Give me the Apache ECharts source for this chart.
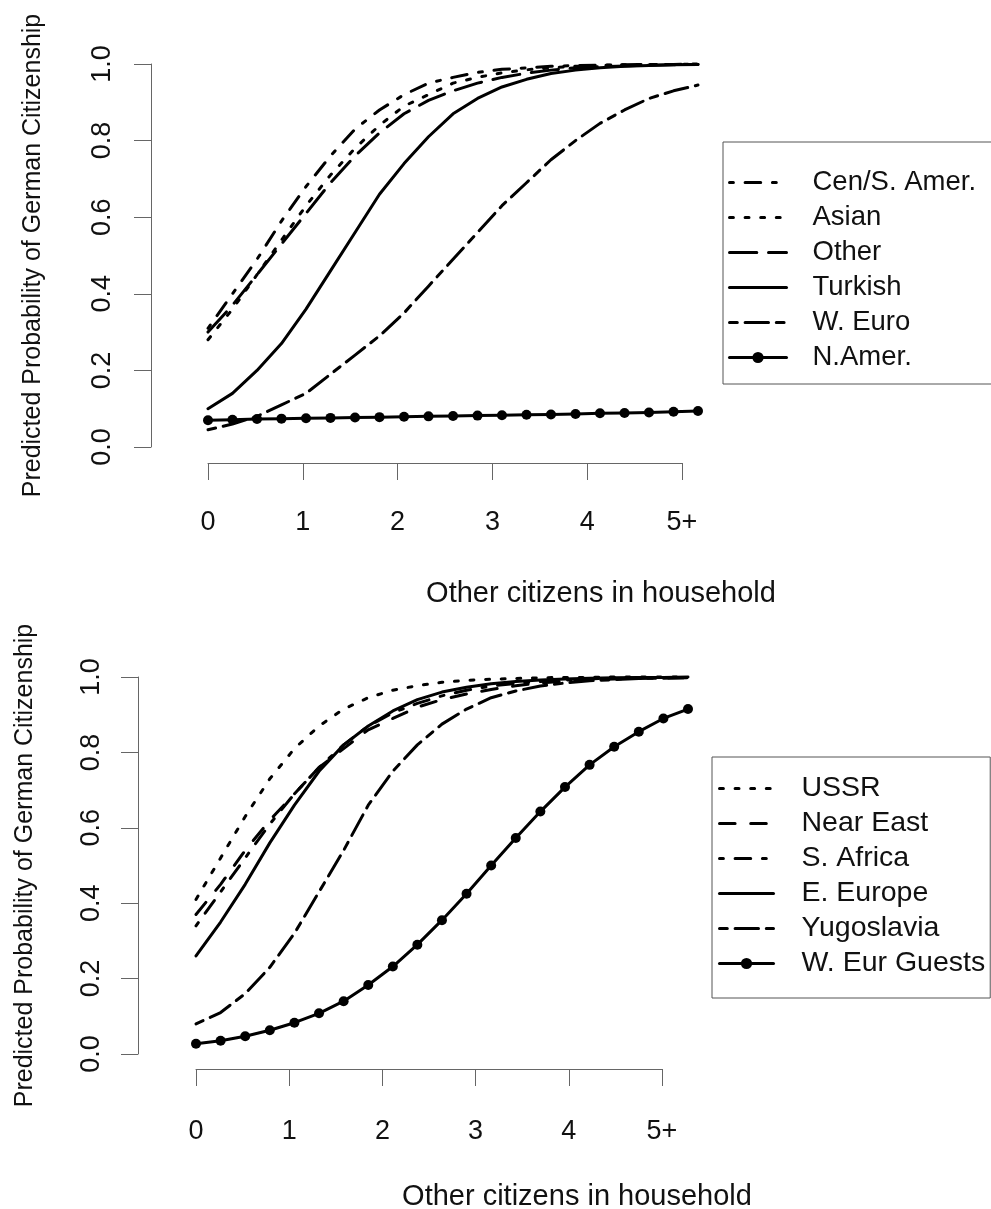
<!DOCTYPE html>
<html><head><meta charset="utf-8">
<script src="https://cdn.jsdelivr.net/npm/echarts@6/dist/echarts.min.js"></script>
<style>html,body{margin:0;padding:0;background:#fff}#c{width:991px;height:1209px}</style>
</head><body><div id="c"></div>
<script>
// ---------- data ----------
const xTickLabels = ['0', '1', '2', '3', '4', '5+'];
const yTickLabels = ['0.0', '0.2', '0.4', '0.6', '0.8', '1.0'];
const xTitle = 'Other citizens in household';
const yTitle = 'Predicted Probability of German Citizenship';

// x positions of the 21 plotted points (in axis units)
const xTop = [0, 0.258, 0.517, 0.775, 1.034, 1.292, 1.551, 1.809, 2.068, 2.326, 2.585,
  2.843, 3.101, 3.360, 3.618, 3.877, 4.135, 4.394, 4.652, 4.911, 5.169];
const xBottom = [0, 0.264, 0.528, 0.792, 1.056, 1.320, 1.584, 1.848, 2.112, 2.375, 2.639,
  2.903, 3.167, 3.431, 3.695, 3.959, 4.223, 4.487, 4.751, 5.015, 5.279];

// top panel
const topNames = ['Cen/S. Amer.', 'Asian', 'Other', 'Turkish', 'W. Euro', 'N.Amer.'];
const cenSAmer = [0.31, 0.40, 0.49, 0.59, 0.68, 0.76, 0.83, 0.88, 0.92, 0.95, 0.965,
  0.978, 0.986, 0.990, 0.994, 0.996, 0.997, 0.998, 0.999, 0.999, 1.0];
const asian = [0.28, 0.36, 0.45, 0.54, 0.63, 0.71, 0.78, 0.84, 0.89, 0.92, 0.95,
  0.965, 0.977, 0.985, 0.990, 0.994, 0.996, 0.998, 0.999, 0.999, 1.0];
const other = [0.30, 0.37, 0.45, 0.53, 0.61, 0.69, 0.76, 0.82, 0.87, 0.905, 0.93,
  0.95, 0.965, 0.976, 0.984, 0.990, 0.993, 0.995, 0.997, 0.998, 0.999];
const turkish = [0.10, 0.14, 0.20, 0.27, 0.36, 0.46, 0.56, 0.66, 0.74, 0.81, 0.87,
  0.91, 0.94, 0.96, 0.975, 0.984, 0.990, 0.994, 0.996, 0.998, 0.999];
const wEuro = [0.045, 0.06, 0.08, 0.11, 0.14, 0.19, 0.24, 0.29, 0.35, 0.42, 0.49,
  0.56, 0.63, 0.69, 0.75, 0.80, 0.845, 0.88, 0.91, 0.93, 0.945];
const nAmer = [0.070, 0.071, 0.073, 0.074, 0.075, 0.076, 0.077, 0.078, 0.079, 0.080, 0.081,
  0.082, 0.083, 0.084, 0.085, 0.086, 0.088, 0.089, 0.090, 0.092, 0.094];

// bottom panel
const bottomNames = ['USSR', 'Near East', 'S. Africa', 'E. Europe', 'Yugoslavia', 'W. Eur Guests'];
const ussr = [0.41, 0.52, 0.63, 0.73, 0.81, 0.87, 0.915, 0.945, 0.965, 0.977, 0.986,
  0.991, 0.994, 0.996, 0.998, 0.999, 0.999, 1.0, 1.0, 1.0, 1.0];
const nearEast = [0.37, 0.45, 0.54, 0.62, 0.69, 0.76, 0.81, 0.86, 0.89, 0.92, 0.94,
  0.955, 0.967, 0.977, 0.984, 0.989, 0.992, 0.995, 0.996, 0.997, 0.998];
const sAfrica = [0.34, 0.43, 0.52, 0.61, 0.69, 0.76, 0.82, 0.87, 0.905, 0.93, 0.95,
  0.965, 0.976, 0.983, 0.988, 0.992, 0.995, 0.997, 0.998, 0.999, 0.999];
const eEurope = [0.26, 0.35, 0.45, 0.56, 0.66, 0.75, 0.82, 0.87, 0.91, 0.94, 0.96,
  0.973, 0.982, 0.988, 0.992, 0.995, 0.997, 0.998, 0.999, 0.999, 1.0];
const yugoslavia = [0.08, 0.11, 0.16, 0.23, 0.32, 0.43, 0.54, 0.66, 0.75, 0.82, 0.875,
  0.915, 0.945, 0.963, 0.976, 0.984, 0.990, 0.993, 0.996, 0.997, 0.998];
const wEurGuests = [0.027, 0.035, 0.047, 0.063, 0.083, 0.108, 0.14, 0.183, 0.232, 0.29, 0.355,
  0.425, 0.50, 0.573, 0.643, 0.708, 0.767, 0.815, 0.855, 0.89, 0.915];

// ---------- styles ----------
const U = 3.9;
const DASH = {
  solid: 'solid',
  dotted: [U, 3 * U],
  dashed: [4 * U, 4 * U],
  dotdash: [U, 3 * U, 4 * U, 3 * U],
  longdash: [7 * U, 3 * U],
  twodash: [2 * U, 2 * U, 6 * U, 2 * U]
};
const FONT = 'Liberation Sans';
const TXT = '#111';

function pair(xs, ys) { return xs.map((x, i) => [x, ys[i]]); }
// data grids: 0 (top), 1 (bottom); display-axis grids: 2 (top), 3 (bottom)
function lineSeries(name, xs, ys, idx, dash, withPoints) {
  return {
    name, type: 'line', xAxisIndex: idx, yAxisIndex: idx,
    data: pair(xs, ys), clip: false, smooth: false,
    symbol: withPoints ? 'circle' : 'none', symbolSize: 10, showSymbol: !!withPoints,
    color: '#000',
    lineStyle: { color: '#000', width: 3, type: dash, cap: 'round', join: 'round' },
    itemStyle: { color: '#000' },
    emphasis: { disabled: true },
    z: withPoints ? 3 : 2
  };
}

const topData = [cenSAmer, asian, other, turkish, wEuro, nAmer];
const topDash = [DASH.dotdash, DASH.dotted, DASH.longdash, DASH.solid, DASH.twodash, DASH.solid];
const bottomData = [ussr, nearEast, sAfrica, eEurope, yugoslavia, wEurGuests];
const bottomDash = [DASH.dotted, DASH.dashed, DASH.dotdash, DASH.solid, DASH.twodash, DASH.solid];

const series = [];
topNames.forEach((n, i) => series.push(lineSeries(n, xTop, topData[i], 0, topDash[i], i === 5)));
bottomNames.forEach((n, i) => series.push(lineSeries(n, xBottom, bottomData[i], 1, bottomDash[i], i === 5)));

function hiddenX(idx, max) {
  return { type: 'value', gridIndex: idx, min: 0, max, show: false, splitLine: { show: false } };
}
function hiddenY(idx) {
  return { type: 'value', gridIndex: idx, min: 0, max: 1, show: false, splitLine: { show: false } };
}
function xAxis(idx, offset, margin) {
  return {
    type: 'value', gridIndex: idx, min: 0, max: 5, interval: 1, offset,
    axisLine: { show: true, onZero: false, lineStyle: { color: '#666', width: 1 } },
    axisTick: { show: true, length: 17, lineStyle: { color: '#666', width: 1 } },
    splitLine: { show: false },
    axisLabel: { margin, fontSize: 27, fontFamily: FONT, color: TXT,
      formatter: v => xTickLabels[Math.round(v)] }
  };
}
function yAxis(idx, offset, margin, nameGap) {
  return {
    type: 'value', gridIndex: idx, min: 0, max: 1, interval: 0.2, offset,
    name: yTitle, nameLocation: 'middle', nameGap,
    nameTextStyle: { fontSize: 25, fontFamily: FONT, color: TXT },
    axisLine: { show: true, onZero: false, lineStyle: { color: '#666', width: 1 } },
    axisTick: { show: true, length: 17, lineStyle: { color: '#666', width: 1 } },
    splitLine: { show: false },
    axisLabel: { margin, rotate: 90, fontSize: 27, fontFamily: FONT, color: TXT,
      formatter: v => yTickLabels[Math.round(v * 5)] }
  };
}
function legendItems(names, markerIndex) {
  return names.map((n, i) => i === markerIndex ? { name: n } :
    { name: n, itemStyle: { color: 'rgba(0,0,0,0)', opacity: 0, borderWidth: 0 } });
}
function legend(names, left, top, padding, itemWidth, textPad, fontSize) {
  return {
    data: legendItems(names, 5), orient: 'vertical', left, top, padding,
    itemWidth, itemHeight: 14, itemGap: 0,
    borderColor: '#555', borderWidth: 1, backgroundColor: '#fff',
    selectedMode: false,
    lineStyle: { width: 3 },
    textStyle: { fontSize, fontFamily: FONT, color: TXT, lineHeight: 35, padding: [0, 0, 0, textPad] }
  };
}

const chart = echarts.init(document.getElementById('c'), null, { renderer: 'canvas' });
chart.setOption({
  animation: false,
  backgroundColor: '#fff',
  grid: [
    { left: 208, top: 64, width: 490, height: 383 },
    { left: 196, top: 677, width: 492, height: 377 },
    { left: 208, top: 64, width: 474, height: 383 },
    { left: 196, top: 677, width: 466, height: 377 }
  ],
  xAxis: [hiddenX(0, xTop[xTop.length - 1]), hiddenX(1, xBottom[xBottom.length - 1]),
    xAxis(2, 16, 46), xAxis(3, 15, 49)],
  yAxis: [hiddenY(0), hiddenY(1), yAxis(2, 57, 35, 105), yAxis(3, 58, 33, 100)],
  legend: [
    legend(topNames, 723, 142, [23, 40, 9, 5], 57, 21, 27.5),
    legend(bottomNames, 712, 757, [14, 5, 17, 6], 54, 23, 28.5)
  ],
  graphic: [
    { type: 'text', x: 601, y: 594, style: { text: xTitle, fontSize: 29, fontFamily: FONT, fill: TXT, textAlign: 'center', textVerticalAlign: 'middle' } },
    { type: 'text', x: 577, y: 1197, style: { text: xTitle, fontSize: 29, fontFamily: FONT, fill: TXT, textAlign: 'center', textVerticalAlign: 'middle' } }
  ],
  series
});
</script></body></html>
